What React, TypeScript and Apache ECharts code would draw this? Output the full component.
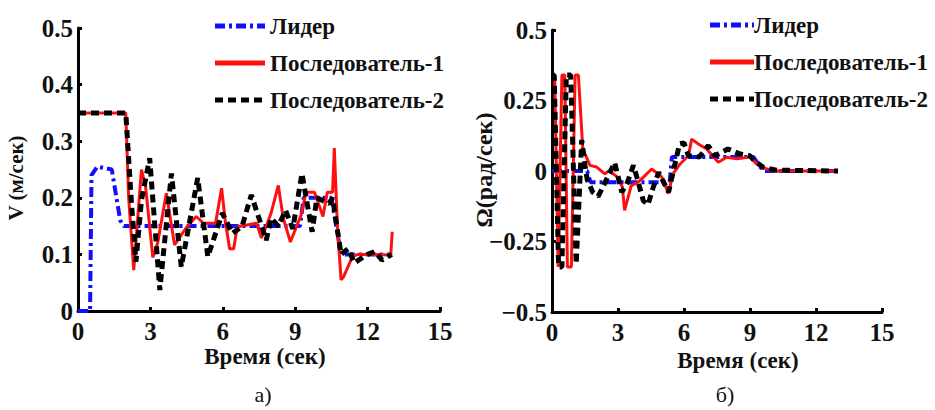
import React, { useEffect, useRef } from "react";
import * as echarts from "echarts";

// ---------- data ----------
const seriesNames = ["Лидер", "Последователь-1", "Последователь-2"];
const xTicks = [0, 3, 6, 9, 12, 15];

// a) velocity V (m/s) vs time (s)
const leaderV: number[][] = [
  [0, 0], [0.5, 0], [0.56, 0.24], [0.8, 0.255], [1.4, 0.25], [1.75, 0.16], [1.9, 0.15],
  [9.2, 0.15], [9.35, 0.2], [10.5, 0.2], [10.9, 0.1], [13, 0.1],
];
const follower1V: number[][] = [
  [0, 0.35], [1.98, 0.35], [2.1, 0.2], [2.31, 0.072], [2.45, 0.15], [2.63, 0.25], [2.8, 0.22],
  [3.1, 0.095], [3.3, 0.12], [3.66, 0.208], [4.0, 0.117], [4.5, 0.148], [4.9, 0.167], [5.2, 0.155],
  [5.7, 0.155], [5.95, 0.217], [6.1, 0.16], [6.28, 0.11], [6.45, 0.11], [6.6, 0.149], [7.4, 0.155],
  [7.6, 0.129], [7.85, 0.155], [8.0, 0.173], [8.3, 0.222], [8.5, 0.165], [8.8, 0.122], [9.25, 0.17],
  [9.45, 0.21], [9.8, 0.21], [10.15, 0.167], [10.33, 0.21], [10.55, 0.21], [10.62, 0.288],
  [10.75, 0.15], [10.9, 0.055], [11.0, 0.06], [11.37, 0.096], [11.6, 0.1], [12.3, 0.1],
  [12.96, 0.099], [13.02, 0.14],
];
const follower2V: number[][] = [
  [0, 0.35], [1.98, 0.35], [2.2, 0.2], [2.4, 0.087], [2.63, 0.196], [2.97, 0.27], [3.39, 0.037],
  [3.87, 0.243], [4.28, 0.078], [4.96, 0.235], [5.38, 0.096], [5.98, 0.173], [6.4, 0.137],
  [6.8, 0.15], [7.18, 0.205], [7.8, 0.125], [8.0, 0.164], [8.3, 0.15], [8.6, 0.178], [8.9, 0.145],
  [9.28, 0.243], [9.7, 0.14], [9.9, 0.2], [10.4, 0.19], [10.55, 0.2], [10.9, 0.1], [11.2, 0.11],
  [11.45, 0.085], [12.0, 0.1], [12.3, 0.105], [12.6, 0.09], [13, 0.1],
];

// б) angular velocity Ω (rad/s) vs time (s)
const leaderW: number[][] = [
  [0, 0], [1.6, 0], [1.75, -0.04], [5.35, -0.04], [5.45, 0.05], [9.15, 0.05], [9.6, 0], [13, 0],
];
const follower1W: number[][] = [
  [0, 0.34], [0.12, 0.34], [0.28, -0.34], [0.45, 0.34], [0.58, 0.34], [0.7, -0.34], [0.88, -0.34],
  [1.05, 0.34], [1.2, 0.34], [1.4, 0.078], [1.73, 0.02], [2.03, 0.014], [2.4, -0.01], [2.6, 0.001],
  [2.95, -0.02], [3.2, -0.057], [3.3, -0.14], [3.6, -0.052], [3.9, -0.04], [4.0, -0.034],
  [4.53, 0.007], [4.98, -0.02], [5.29, -0.08], [5.5, -0.01], [5.82, 0.025], [6.2, 0.054],
  [6.35, 0.113], [6.65, 0.096], [7.03, 0.078], [7.56, 0.031], [7.94, 0.049], [8.4, 0.043],
  [9.0, 0.05], [9.3, 0.025], [9.76, 0.007], [10.2, 0], [13, 0],
];
const follower2W: number[][] = [
  [0, 0.34], [0.1, 0.34], [0.3, -0.34], [0.45, -0.34], [0.65, 0.34], [0.85, 0.34], [1.1, -0.33],
  [1.35, 0.11], [1.5, 0.02], [1.6, -0.03], [1.85, -0.075], [2.1, -0.09], [2.6, -0.01], [2.85, 0.03],
  [3.17, -0.075], [3.4, -0.046], [3.7, 0.02], [3.85, -0.02], [4.15, -0.105], [4.36, -0.12],
  [4.6, -0.058], [4.85, -0.005], [5.3, -0.075], [5.5, -0.005], [5.8, 0.096], [6.0, 0.1],
  [6.2, 0.054], [6.7, 0.05], [7.1, 0.09], [7.4, 0.054], [8.0, 0.078], [8.55, 0.06], [9.0, 0.054],
  [9.2, 0.036], [9.6, 0.013], [10.2, 0.003], [13, 0],
];

// ---------- styles ----------
const FONT = "'Liberation Serif', 'Times New Roman', serif";
const TXT = "#111";
const styles = [
  { color: "#1010ff", width: 4, type: [10, 4, 3, 4] as number[] },
  { color: "#ff1010", width: 3, type: "solid" as any },
  { color: "#000000", width: 5, type: [8, 5] as number[] },
];

function App() {
  const ref = useRef<HTMLDivElement>(null);
  useEffect(() => {
    if (!ref.current) return;
    const chart = echarts.init(ref.current, null, { renderer: "svg" });

    const axisCommon = {
      axisLine: { show: true, onZero: false, lineStyle: { color: "#000", width: 3 } },
      axisTick: { show: true, inside: true, length: 4, lineStyle: { color: "#000", width: 3 } },
      splitLine: { show: false },
      axisLabel: { color: TXT, fontFamily: FONT, fontWeight: "bold", fontSize: 25 },
    };

    const mkSeries = (data: number[][], i: number, gi: number) => ({
      type: "line",
      name: seriesNames[i],
      xAxisIndex: gi,
      yAxisIndex: gi,
      data,
      showSymbol: false,
      symbol: "none",
      lineStyle: { color: styles[i].color, width: styles[i].width, type: styles[i].type },
      z: 3 + i,
    });

    const legendGraphics = (x0: number, x1: number, tx: number, ys: number[]) => {
      const out: any[] = [];
      ys.forEach((y, i) => {
        out.push({
          type: "line",
          shape: { x1: x0, y1: y, x2: x1, y2: y },
          style: {
            stroke: styles[i].color,
            lineWidth: 5,
            lineDash: Array.isArray(styles[i].type) ? styles[i].type : null,
          },
          z: 10,
        });
        out.push({
          type: "text",
          x: tx,
          y,
          style: {
            text: seriesNames[i],
            fill: TXT,
            font: `bold 23px ${FONT}`,
            verticalAlign: "middle",
            align: "left",
          },
          z: 10,
        });
      });
      return out;
    };

    const textG = (text: string, x: number, y: number, size: number, bold: boolean, rotation = 0) => ({
      type: "text",
      x,
      y,
      rotation,
      style: {
        text,
        fill: TXT,
        font: `${bold ? "bold " : ""}${size}px ${FONT}`,
        align: "center",
        verticalAlign: "middle",
      },
    });

    chart.setOption({
      animation: false,
      backgroundColor: "#fff",
      grid: [
        { left: 78, top: 28, width: 362, height: 283, containLabel: false },
        { left: 552, top: 30, width: 330, height: 282, containLabel: false },
      ],
      xAxis: [0, 1].map((gi) => ({
        ...axisCommon,
        type: "value",
        gridIndex: gi,
        min: xTicks[0],
        max: xTicks[xTicks.length - 1],
        interval: 3,
        axisLabel: { ...axisCommon.axisLabel, margin: 8 },
      })),
      yAxis: [
        {
          ...axisCommon,
          type: "value",
          gridIndex: 0,
          min: 0,
          max: 0.5,
          interval: 0.1,
          axisLabel: {
            ...axisCommon.axisLabel,
            margin: 5,
            formatter: (v: number) => (v === 0 ? "0" : v.toFixed(1)),
          },
        },
        {
          ...axisCommon,
          type: "value",
          gridIndex: 1,
          min: -0.5,
          max: 0.5,
          interval: 0.25,
          axisLabel: {
            ...axisCommon.axisLabel,
            margin: 5,
            formatter: (v: number) => {
              if (v === 0) return "0";
              const s = String(Math.abs(v));
              return v < 0 ? "\u2212" + s : s;
            },
          },
        },
      ],
      series: [
        mkSeries(leaderV, 0, 0),
        mkSeries(follower1V, 1, 0),
        mkSeries(follower2V, 2, 0),
        mkSeries(leaderW, 0, 1),
        mkSeries(follower1W, 1, 1),
        mkSeries(follower2W, 2, 1),
      ],
      graphic: [
        ...legendGraphics(215, 265, 270, [26, 63, 100]),
        ...legendGraphics(710, 754, 754, [25, 62, 99]),
        textG("Время (сек)", 265, 356, 23, true),
        textG("Время (сек)", 738, 360, 23, true),
        textG("V (м/сек)", 16, 178, 21, true, Math.PI / 2),
        textG("Ω(рад/сек)", 484, 170, 24, true, Math.PI / 2),
        textG("a)", 263, 394, 22, false),
        textG("б)", 725, 394, 22, false),
      ],
    });
    return () => chart.dispose();
  }, []);
  return (
    <div
      ref={ref}
      style={{ position: "absolute", left: 0, top: 0, width: 935, height: 410 }}
    />
  );
}

export default App;
